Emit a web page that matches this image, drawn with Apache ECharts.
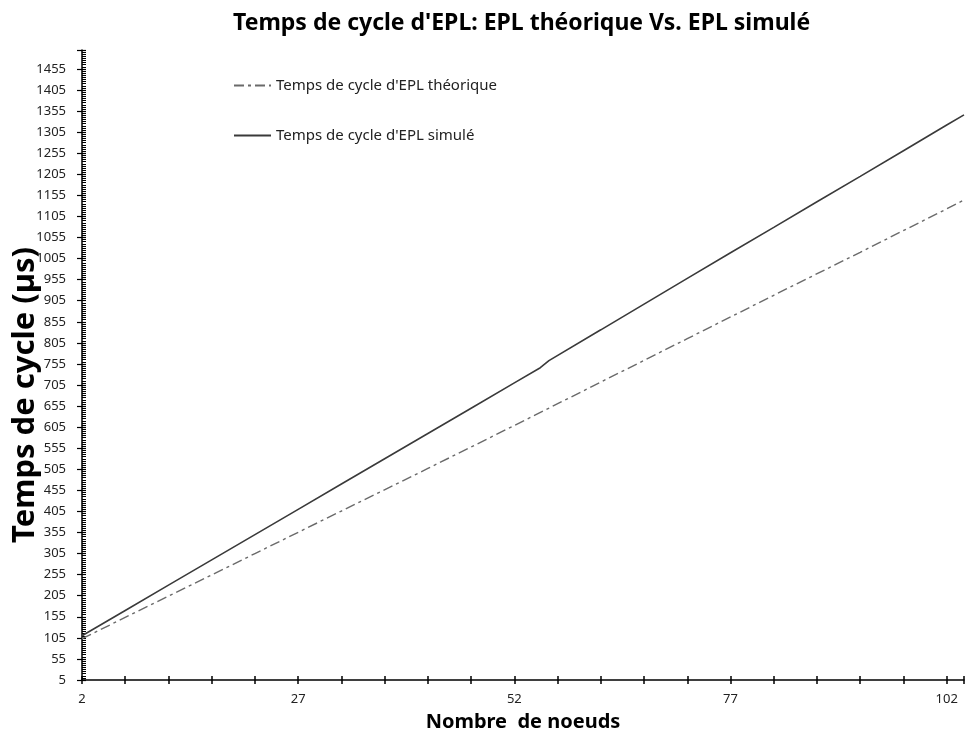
<!DOCTYPE html>
<html>
<head>
<meta charset="utf-8">
<script src="https://cdn.jsdelivr.net/npm/echarts@6/dist/echarts.min.js"></script>
<style>
html,body{margin:0;padding:0;background:#fff;}
#chart{width:967px;height:740px;}
</style>
</head>
<body>
<div id="chart"></div>
<script>
// Data
const titleText = "Temps de cycle d'EPL: EPL théorique Vs. EPL simulé";
const xAxisName = "Nombre  de noeuds";
const yAxisName = "Temps de cycle (µs)";
const seriesNames = ["Temps de cycle d'EPL théorique", "Temps de cycle d'EPL simulé"];

const theoNodes = [2, 12, 22, 32, 42, 52, 62, 72, 82, 92, 102, 104];
const theoValues = [103, 204, 305, 406, 507, 609, 712, 815, 918, 1020, 1123, 1144];

const simNodes = [2, 7, 12, 17, 22, 27, 32, 37, 42, 47, 52, 55, 56, 62, 67, 72, 77, 82, 87, 92, 97, 102, 104];
const simValues = [110, 170, 230, 290, 350, 410, 470, 530, 590, 650, 710, 746, 763, 836, 897, 958, 1019, 1079, 1140, 1200, 1261, 1322, 1346];

const xMin = 2, xMax = 104, xTickStep = 5, xLabelStep = 25, xLastLabel = 102;
const yMin = 5, yMax = 1500, yTickStep = 50;

const pairs = (xs, ys) => xs.map((x, i) => [x, ys[i]]);

const font = "'Noto Sans', 'DejaVu Sans', sans-serif";
const chart = echarts.init(document.getElementById('chart'), null, {renderer: 'canvas'});

const xBase = {
  type: 'value', min: xMin, max: xMax, interval: xTickStep,
  splitLine: {show: false}
};
const yBase = {
  type: 'value', min: yMin, max: yMax, interval: yTickStep,
  splitLine: {show: false}
};

chart.setOption({
  backgroundColor: '#ffffff',
  animation: false,
  title: {
    text: titleText, left: 228, top: 7,
    textStyle: {fontFamily: font, fontSize: 23, fontWeight: 'bold', color: '#000'}
  },
  legend: {
    orient: 'vertical', left: 228, top: 73, itemGap: 35,
    itemWidth: 37, itemHeight: 14,
    itemStyle: {opacity: 0, borderWidth: 0},
    textStyle: {fontFamily: font, fontSize: 15, color: '#222'},
    data: seriesNames
  },
  graphic: [{
    type: 'text',
    rotation: Math.PI / 2,
    x: 25, y: 395,
    style: {
      text: yAxisName, fontFamily: font, fontSize: 31, fontWeight: 'bold',
      fill: '#000', textAlign: 'center', textVerticalAlign: 'middle'
    }
  }],
  grid: {left: 82, right: 0, top: 50, bottom: 60, containLabel: false},
  xAxis: [
    Object.assign({}, xBase, {
      position: 'bottom',
      name: xAxisName, nameLocation: 'middle', nameGap: 32,
      nameTextStyle: {fontFamily: font, fontSize: 20, fontWeight: 'bold', color: '#000'},
      axisLine: {show: true, lineStyle: {color: '#000', width: 1.5}},
      axisTick: {show: true, inside: true, length: 4, lineStyle: {color: '#000', width: 1.5}},
      axisLabel: {
        fontFamily: font, fontSize: 13, color: '#222', margin: 13,
        formatter: v => ((v - xMin) % xLabelStep === 0 && v <= xLastLabel) ? String(v) : ''
      }
    }),
    Object.assign({}, xBase, {
      position: 'bottom',
      axisLine: {show: false},
      axisTick: {show: true, inside: false, length: 4, lineStyle: {color: '#000', width: 1.5}},
      axisLabel: {show: false}
    })
  ],
  yAxis: [
    Object.assign({}, yBase, {
      position: 'left',
      axisLine: {show: true, lineStyle: {color: '#000', width: 1.5}},
      axisTick: {show: true, inside: true, length: 4, lineStyle: {color: '#000', width: 1.2}},
      minorTick: {show: true, splitNumber: 10, length: 4, lineStyle: {color: '#000', width: 1}},
      axisLabel: {
        fontFamily: font, fontSize: 13, color: '#222', margin: 16,
        formatter: v => ((v - yMin) % yTickStep === 0) ? String(v) : ''
      }
    }),
    Object.assign({}, yBase, {
      position: 'left',
      axisLine: {show: false},
      axisTick: {show: true, inside: false, length: 5, lineStyle: {color: '#000', width: 1.2}},
      axisLabel: {show: false}
    })
  ],
  series: [
    {
      name: seriesNames[0], type: 'line', xAxisIndex: 0, yAxisIndex: 0,
      showSymbol: false, symbol: 'none', clip: true,
      data: pairs(theoNodes, theoValues),
      lineStyle: {color: '#6a6a6a', width: 1.4, type: [10, 4, 3, 4]},
      itemStyle: {color: '#6a6a6a'}
    },
    {
      name: seriesNames[1], type: 'line', xAxisIndex: 0, yAxisIndex: 0,
      showSymbol: false, symbol: 'none', clip: true,
      data: pairs(simNodes, simValues),
      lineStyle: {color: '#3a3a3a', width: 1.6, type: 'solid'},
      itemStyle: {color: '#3a3a3a'}
    }
  ]
});
</script>
</body>
</html>
